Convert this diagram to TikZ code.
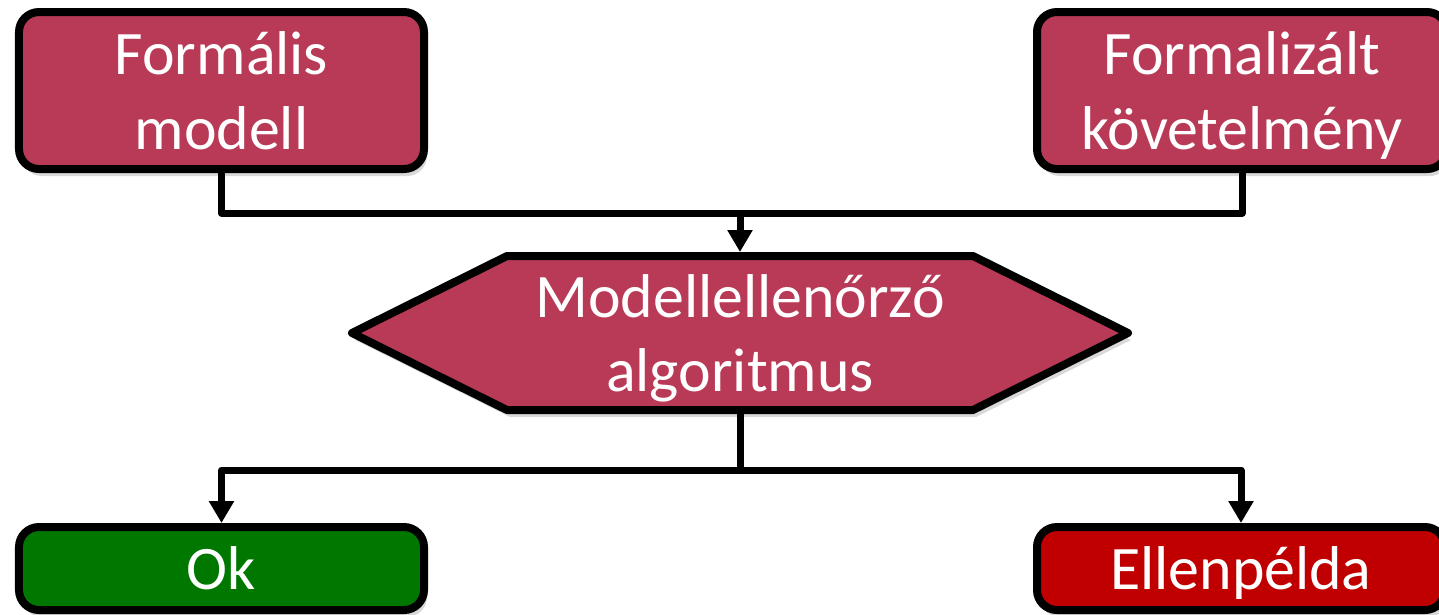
\documentclass[tikz,border=0pt]{standalone}
\usepackage{fontspec}
\setmainfont{Carlito}
\usetikzlibrary{arrows.meta,shadows,backgrounds}
\definecolor{boxred}{RGB}{185,58,86}
\definecolor{okgreen}{RGB}{0,120,0}
\definecolor{errred}{RGB}{192,0,0}
\tikzset{
	shade box/.style={drop shadow={shadow xshift=0.03cm,shadow yshift=-0.07cm,opacity=0.3}},
	box/.style={draw=black,line width=0.08cm,rounded corners=0.2cm,text=white,align=center,
		text depth=0pt,font=\fontsize{17.6}{21.3}\selectfont,shade box},
	conn/.style={line width=0.07cm,line join=round},
	arr/.style={conn,-{Triangle[width=0.24cm,length=0.22cm]}}
}
\begin{document}
\begin{tikzpicture}
	\useasboundingbox (0,0) rectangle (14.39,-6.14);
	% inputs
	\node[box,fill=boxred,minimum width=4.05cm,minimum height=1.57cm] (formmodel) at (2.215,-0.905) {Formális\\modell};
	\node[box,fill=boxred,minimum width=4.10cm,minimum height=1.57cm] (formreq) at (12.42,-0.905) {Formalizált\\követelmény};
	% checker
	\node[text=white,align=center,text depth=0pt,font=\fontsize{17.6}{21.3}\selectfont,
		minimum width=4.66cm,minimum height=1.54cm,inner sep=0pt,outer sep=0.04cm] (checker) at (7.40,-3.33) {Modellellenőrző\\algoritmus};
	\begin{scope}[on background layer]
		\draw[line width=0.08cm,line join=round,fill=boxred,shade box]
			([shift={(-2.33,0.77)}]checker.center) -- ([shift={(2.33,0.77)}]checker.center)
			-- ([shift={(3.88,0)}]checker.center) -- ([shift={(2.33,-0.77)}]checker.center)
			-- ([shift={(-2.33,-0.77)}]checker.center) -- ([shift={(-3.88,0)}]checker.center) -- cycle;
	\end{scope}
	% results
	\node[box,fill=okgreen,minimum width=4.05cm,minimum height=0.83cm] (ok) at (2.215,-5.685) {Ok};
	\node[box,fill=errred,minimum width=4.08cm,minimum height=0.83cm] (cex) at (12.41,-5.685) {Ellenpélda};
	% connectors
	\coordinate (jtop) at (7.40,-2.13);
	\coordinate (jbot) at (7.40,-4.70);
	\draw[conn] (formmodel.south) |- (jtop) -| (formreq.south);
	\draw[arr] (jtop) -- (checker.north);
	\draw[conn] (checker.south) -- (jbot);
	\draw[arr] (jbot) -| (ok.north);
	\draw[arr] (jbot) -| (cex.north);
\end{tikzpicture}
\end{document}
